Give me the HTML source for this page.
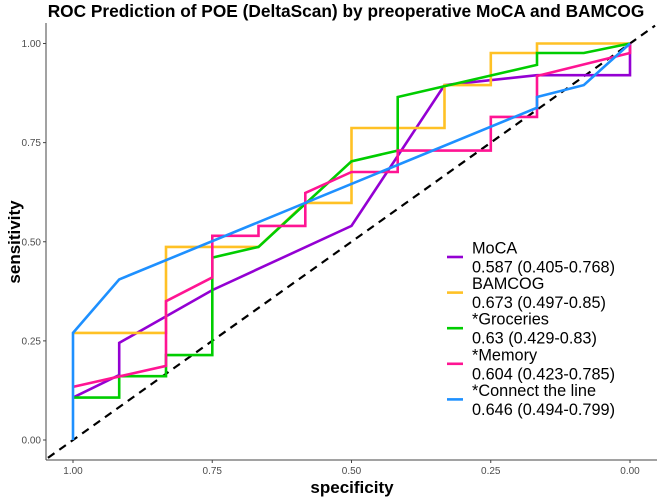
<!DOCTYPE html>
<html><head><meta charset="utf-8"><style>
body{margin:0;background:#fff}
svg text{font-family:"Liberation Sans",Arial,sans-serif}
</style></head><body>
<svg id="chart" width="660" height="499" viewBox="0 0 660 499" xmlns="http://www.w3.org/2000/svg">
<text x="346" y="17" text-anchor="middle" font-size="17.3" font-weight="bold" fill="#000">ROC Prediction of POE (DeltaScan) by preoperative MoCA and BAMCOG</text>
<g id="plot"></g>
<line x1="46" y1="23" x2="46" y2="460" stroke="#444" stroke-width="1"/>
<line x1="46" y1="460" x2="657" y2="460" stroke="#444" stroke-width="1"/>
<g id="ticks"></g>
<text x="352" y="493" text-anchor="middle" font-size="17" font-weight="bold">specificity</text>
<text transform="translate(20,242) rotate(-90)" text-anchor="middle" font-size="17" font-weight="bold">sensitivity</text>
<g id="legend"></g>
</svg>
<script>
const tickValues=[0,0.25,0.5,0.75,1];
const tickLabels=["0.00","0.25","0.50","0.75","1.00"];
const seriesNames=["MoCA","BAMCOG","*Groceries","*Memory","*Connect the line"];
const seriesAUC=["0.587 (0.405-0.768)","0.673 (0.497-0.85)","0.63 (0.429-0.83)","0.604 (0.423-0.785)","0.646 (0.494-0.799)"];
const seriesColors=["#9400D3","#FFC125","#00CD00","#FF1493","#1E90FF"];
const mocaSpec=[1,0.917,0.917,0.75,0.5,0.333,0.167,0,0];
const mocaSens=[0.107,0.164,0.245,0.378,0.54,0.895,0.92,0.92,1];
const bamcogSpec=[1,0.833,0.833,0.667,0.583,0.5,0.5,0.333,0.333,0.25,0.25,0.167,0.167,0];
const bamcogSens=[0.27,0.27,0.487,0.487,0.598,0.598,0.787,0.787,0.895,0.895,0.976,0.976,1,1];
const grocSpec=[1,0.917,0.917,0.833,0.833,0.75,0.75,0.667,0.5,0.417,0.417,0.167,0.167,0.083,0];
const grocSens=[0.107,0.107,0.161,0.161,0.214,0.214,0.46,0.487,0.703,0.73,0.865,0.946,0.976,0.976,1];
const memSpec=[1,0.833,0.833,0.75,0.75,0.667,0.667,0.583,0.583,0.5,0.417,0.417,0.25,0.25,0.167,0.167,0,0];
const memSens=[0.134,0.187,0.35,0.41,0.515,0.515,0.54,0.54,0.623,0.676,0.676,0.73,0.73,0.815,0.815,0.918,0.976,1];
const connSpec=[1,1,0.917,0.167,0.167,0.083,0];
const connSens=[0,0.27,0.405,0.838,0.865,0.895,1];
const allSpec=[mocaSpec,bamcogSpec,grocSpec,memSpec,connSpec];
const allSens=[mocaSens,bamcogSens,grocSens,memSens,connSens];

const NS="http://www.w3.org/2000/svg";
function xs(s){return 630-s*557;}
function ys(v){return 440-v*396.5;}
function mk(t,a){const e=document.createElementNS(NS,t);for(const k in a)e.setAttribute(k,a[k]);return e;}
const plot=document.getElementById('plot'),ticks=document.getElementById('ticks'),legend=document.getElementById('legend');
const d=mk('line',{x1:xs(1.045),y1:ys(-0.045),x2:xs(-0.045),y2:ys(1.045),stroke:'#000','stroke-width':2.2,'stroke-dasharray':'8,6'});


plot.appendChild(d);
for(let i=0;i<5;i++){
  const pts=allSpec[i].map((s,j)=>xs(s).toFixed(1)+','+ys(allSens[i][j]).toFixed(1)).join(' ');
  const p=mk('polyline',{points:pts,fill:'none',stroke:seriesColors[i],'stroke-width':2.6,'stroke-linejoin':'miter'});
  
  
  plot.appendChild(p);
}
for(let i=0;i<tickValues.length;i++){
  const v=tickValues[i];
  const ty=mk('text',{x:41,y:ys(v)+3.5,'text-anchor':'end','font-size':10,fill:'#4d4d4d'});
  ty.textContent=tickLabels[i];
  
  
  ticks.appendChild(ty);
  ticks.appendChild(mk('line',{x1:43,x2:46,y1:ys(v),y2:ys(v),stroke:'#444'}));
  const tx=mk('text',{x:xs(v),y:474,'text-anchor':'middle','font-size':10,fill:'#4d4d4d'});
  tx.textContent=tickLabels[i];
  
  
  ticks.appendChild(tx);
  ticks.appendChild(mk('line',{x1:xs(v),x2:xs(v),y1:460,y2:463,stroke:'#444'}));
}
for(let i=0;i<5;i++){
  const cy=257+i*35.6;
  const g=mk('g',{});
  
  
  g.appendChild(mk('line',{x1:447,x2:463,y1:cy,y2:cy,stroke:seriesColors[i],'stroke-width':2.6}));
  const t1=mk('text',{x:472,y:cy-3.5,'font-size':16.3,fill:'#000'});t1.textContent=seriesNames[i];
  const t2=mk('text',{x:472,y:cy+15.5,'font-size':16.3,fill:'#000'});t2.textContent=seriesAUC[i];
  g.appendChild(t1);g.appendChild(t2);
  legend.appendChild(g);
}
</script>
</body></html>
